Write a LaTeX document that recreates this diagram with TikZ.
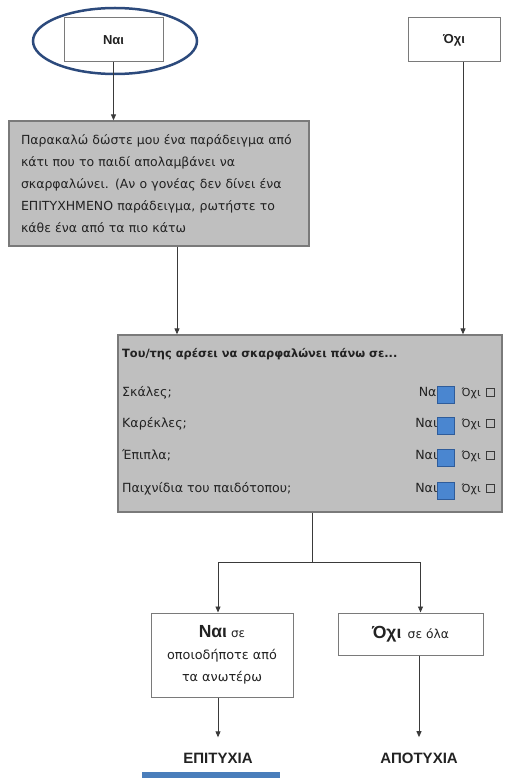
\documentclass[tikz,border=0pt]{standalone}
\usepackage{fontspec}
\setmainfont{DejaVu Sans}
\newfontfamily\headfamily{Liberation Sans}
\usetikzlibrary{arrows.meta,calc,shapes.geometric}

\definecolor{boxgray}{HTML}{BFBFBF}
\definecolor{edgegray}{HTML}{7A7A7A}
\definecolor{linegray}{HTML}{3A3A3A}
\definecolor{inkgray}{HTML}{222222}
\definecolor{tickblue}{HTML}{4A86D0}
\definecolor{tickedge}{HTML}{2F5C9A}
\definecolor{ringblue}{HTML}{2C4A7C}
\definecolor{barblue}{HTML}{4A7EBB}

\tikzset{
  whitebox/.style={draw=edgegray, line width=1pt, fill=white, inner sep=0pt},
  graybox/.style={draw=edgegray, line width=1.3pt, fill=boxgray},
  flow/.style={draw=linegray, line width=0.9pt},
  arr/.style={flow, -{Triangle[length=6pt,width=5pt]}},
  ring/.style={ellipse, draw=ringblue, line width=2.5pt, inner sep=0pt},
  answer/.style={font=\headfamily\bfseries\fontsize{13}{15}\selectfont, text=inkgray},
  item/.style={font=\fontsize{12.6}{14}\selectfont, text=inkgray, inner sep=0pt},
  tick/.style={rectangle, minimum size=17pt, inner sep=0pt, fill=tickblue, draw=tickedge, line width=1pt},
  emptybox/.style={rectangle, minimum size=8.5pt, inner sep=0pt, draw=linegray, line width=0.6pt},
  outcome/.style={font=\headfamily\bfseries\fontsize{15}{17}\selectfont, text=inkgray}
}

\begin{document}
\begin{tikzpicture}[x=1pt,y=-1pt]
\useasboundingbox (0,0) rectangle (512,778);

% the two starting answers
\node[whitebox, minimum width=99pt, minimum height=44pt, answer] (yes) at (113.5,40) {Ναι};
\node[whitebox, minimum width=92pt, minimum height=44pt, answer] (no) at (454,40) {Όχι};
\node[ring, minimum width=164pt, minimum height=66pt] (circled) at (115,41) {};

% prompt for an example
\node[graybox, minimum width=298pt, minimum height=125pt, text width=276pt,
      align=left, inner xsep=12pt, text=inkgray,
      font=\fontsize{12.5}{22}\selectfont] (prompt) at (159,183.5)
  {Παρακαλώ δώστε μου ένα παράδειγμα από\\
   κάτι που το παιδί απολαμβάνει να\\
   σκαρφαλώνει. (Αν ο γονέας δεν δίνει ένα\\
   ΕΠΙΤΥΧΗΜΕΝΟ παράδειγμα, ρωτήστε το\\
   κάθε ένα από τα πιο κάτω};

% checklist box
\node[graybox, minimum width=384pt, minimum height=177pt] (climb) at (310,423.5) {};
\node[item, anchor=base west, font=\bfseries\fontsize{11.4}{13}\selectfont] (title) at (122,357)
  {Του/της αρέσει να σκαρφαλώνει πάνω σε...};
\foreach \y/\t/\n/\e in {396/Σκάλες;/r1/441, 427/Καρέκλες;/r2/437.5, 459/Έπιπλα;/r3/437.5, 492/Παιχνίδια του παιδότοπου;/r4/437.5}{
  \node[item, anchor=base west] (\n) at (122,\y) {\t};
  \node[item, anchor=base east] (\n yes) at (\e,\y) {Ναι};
  \node[tick] (\n tick) at (446,{\y-1.5}) {};
  \node[item, anchor=base west, font=\fontsize{11}{13}\selectfont] (\n no) at (461.5,\y) {Όχι};
  \node[emptybox] (\n box) at (490.5,{\y-3.5}) {};
}

% connectors between the upper boxes
\draw[arr] (yes.south) -- (yes.south |- prompt.north);
\coordinate (nodrop) at ($(no.south)+(9,0)$);
\draw[arr] (nodrop) -- (nodrop |- climb.north);
\coordinate (pdrop) at ($(prompt.south)+(18,0)$);
\draw[arr] (pdrop) -- (pdrop |- climb.north);

% result boxes
\node[whitebox, minimum width=142pt, minimum height=84pt, align=center, text=inkgray,
      font=\fontsize{12.8}{22}\selectfont] (yesany) at (222,655)
  {{\headfamily\bfseries\fontsize{17.5}{19}\selectfont Ναι} {\fontsize{12}{13}\selectfont σε}\\
   οποιοδήποτε από\\ τα ανωτέρω};
\node[whitebox, minimum width=145pt, minimum height=42pt, text=inkgray] (noall) at (410.5,634)
  {{\headfamily\bfseries\fontsize{17.5}{19}\selectfont Όχι} \ {\fontsize{12.3}{13}\selectfont σε όλα}};

% split towards the results
\coordinate (split) at ($(climb.south)+(2,50)$);
\draw[flow] (climb.south -| split) -- (split);
\coordinate (yesin) at ($(yesany.north)+(-4,0)$);
\coordinate (noin) at ($(noall.north)+(10,0)$);
\draw[arr] (split) -| (yesin);
\draw[arr] (split) -| (noin);

% outcomes
\node[outcome] (success) at (218,758) {ΕΠΙΤΥΧΙΑ};
\node[outcome] (failure) at (419,758) {ΑΠΟΤΥΧΙΑ};
\draw[arr] (yesany.south -| success) -- ([yshift=12pt]success.north);
\draw[arr] (noall.south -| failure) -- ([yshift=12pt]failure.north);

% highlight bar under the success label
\fill[barblue] (142,772) rectangle (280,778);
\end{tikzpicture}
\end{document}
